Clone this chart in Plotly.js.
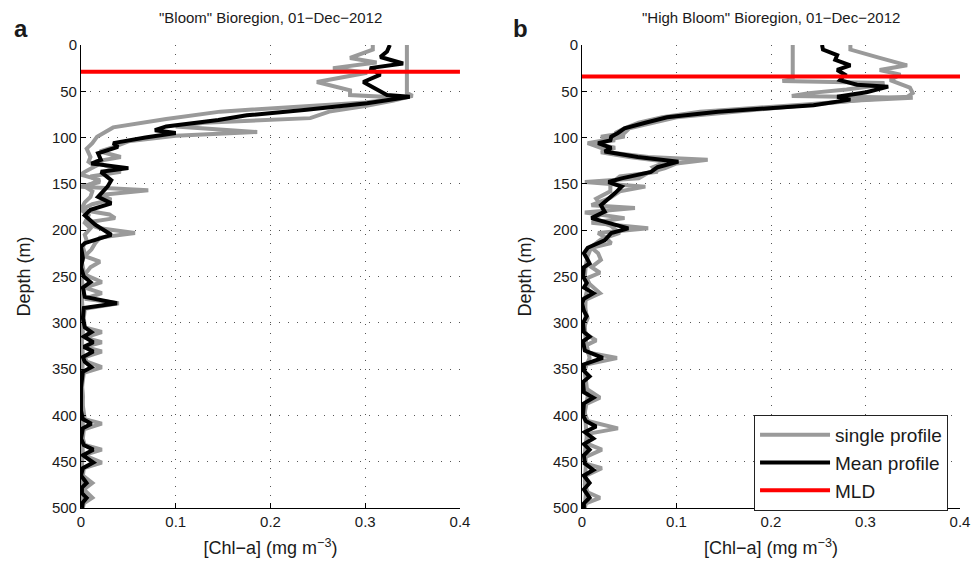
<!DOCTYPE html>
<html>
<head>
<meta charset="utf-8">
<script src="https://cdn.plot.ly/plotly-3.0.1.min.js"></script>
<style>
html,body{margin:0;padding:0;background:#fff}
#chart{width:978px;height:570px}
</style>
</head>
<body>
<div id="chart"></div>
<script>
// ---------- Panel a: "Bloom" Bioregion ----------
var depthA_mean = [0,7,13,20,25,32,40,46,54,56,63,70,76,81,88,92,95,100,106,110,117,124,128,133,137,146,153,164,171,178,184,194,205,214,218,230,240,250,256,262,272,279,284,295,305,310,315,321,326,331,337,342,348,353,370,395,404,409,414,425,432,437,443,451,457,465,473,478,484,489,494,500];
var chlA_mean = [0.326,0.323,0.316,0.340,0.305,0.316,0.298,0.308,0.323,0.347,0.302,0.238,0.175,0.145,0.090,0.078,0.100,0.068,0.034,0.039,0.018,0.021,0.011,0.050,0.021,0.032,0.028,0.018,0.032,0.010,0.004,0.015,0.032,0.004,0.000,0.002,0.000,0.003,0.010,0.002,0.004,0.038,0.003,0.002,0.004,0.011,0.003,0.013,0.003,0.013,0.002,0.004,0.011,0.002,0.000,0.000,0.002,0.011,0.002,0.000,0.003,0.013,0.002,0.013,0.002,0.000,0.006,0.001,0.001,0.006,0.002,0.001];

var depthA_p1 = [0,52,55,60,66,72,79,84,88,94,98,104,110,115,121,126,132,137,142,148,153,157,162,167,172,178,183,187,192,198,203,208,214,221,228,234,240,248,256,262,268,274,279,285,295,305,310,316,321,326,331,337,342,348,354,370,390,404,409,415,425,432,437,443,451,457,465,473,480,489,495,500];
var chlA_p1 = [0.344,0.344,0.350,0.330,0.300,0.262,0.242,0.130,0.100,0.186,0.100,0.050,0.035,0.020,0.042,0.015,0.030,0.042,0.010,0.020,0.000,0.071,0.020,0.032,0.012,0.000,0.030,0.036,0.004,0.020,0.057,0.020,0.015,0.011,0.004,0.020,0.010,0.004,0.022,0.004,0.022,0.004,0.040,0.004,0.003,0.004,0.022,0.004,0.022,0.004,0.022,0.004,0.006,0.022,0.003,0.001,0.002,0.004,0.022,0.003,0.002,0.004,0.022,0.003,0.022,0.003,0.002,0.012,0.003,0.012,0.003,0.002];

var depthA_p2 = [0,5,14,19,25,30,40,49,54,57,62,67,72,80,89,99,106,112,121,126,131,137,140,146,153,158,164,170,178,184,192,198,205,211,218,225,235,245,255,265,275,290,300,310,320,335,350,365,380,395,410,425,440,455,470,485,500];
var chlA_p2 = [0.308,0.308,0.284,0.312,0.266,0.302,0.249,0.284,0.284,0.340,0.300,0.230,0.147,0.090,0.034,0.017,0.012,0.006,0.010,0.008,0.015,0.004,0.000,0.020,0.004,0.012,0.010,0.004,0.000,0.008,0.004,0.010,0.004,0.006,0.002,0.004,0.001,0.003,0.001,0.003,0.001,0.002,0.001,0.002,0.001,0.002,0.001,0.001,0.002,0.001,0.002,0.001,0.002,0.001,0.002,0.001,0.001];

var mldA = 29;

// ---------- Panel b: "High Bloom" Bioregion ----------
var depthB_mean = [0,5,11,16,22,27,32,38,43,45,51,56,59,65,72,78,84,90,95,99,103,106,111,115,121,124,126,132,137,144,148,153,160,173,180,187,191,198,203,211,219,225,232,236,240,250,257,262,268,274,279,287,293,300,310,315,320,330,338,345,352,358,364,375,381,387,400,406,412,418,425,431,437,443,452,459,465,473,480,489,495,500];
var chlB_mean = [0.254,0.255,0.270,0.268,0.284,0.270,0.278,0.273,0.291,0.324,0.301,0.270,0.284,0.245,0.144,0.090,0.067,0.045,0.038,0.031,0.030,0.017,0.031,0.024,0.059,0.088,0.102,0.080,0.073,0.042,0.028,0.042,0.035,0.020,0.024,0.010,0.024,0.049,0.031,0.024,0.006,0.002,0.006,0.008,0.002,0.001,0.005,0.002,0.012,0.002,0.000,0.002,0.005,0.001,0.002,0.008,0.001,0.003,0.022,0.002,0.002,0.008,0.001,0.002,0.012,0.002,0.001,0.004,0.015,0.003,0.012,0.002,0.008,0.002,0.003,0.012,0.002,0.008,0.002,0.008,0.002,0.002];

var depthB_p1 = [0,37,39,41,44,48,52,55,57,60,64,68,72,78,84,90,95,99,103,106,111,116,121,124,128,133,138,144,148,153,158,165,173,176,181,187,192,198,203,208,214,219,225,232,240,246,252,258,268,275,285,295,305,312,319,325,332,338,345,352,360,370,381,388,398,406,414,420,430,437,445,452,457,465,475,483,489,495,500];
var chlB_p1 = [0.223,0.223,0.212,0.320,0.310,0.280,0.240,0.222,0.350,0.290,0.240,0.175,0.125,0.085,0.060,0.045,0.035,0.045,0.020,0.006,0.020,0.030,0.070,0.133,0.100,0.088,0.070,0.060,0.003,0.067,0.040,0.030,0.010,0.056,0.003,0.045,0.010,0.070,0.017,0.025,0.031,0.010,0.017,0.020,0.010,0.019,0.005,0.008,0.019,0.004,0.003,0.006,0.002,0.004,0.015,0.003,0.006,0.037,0.004,0.003,0.004,0.003,0.019,0.004,0.003,0.006,0.038,0.006,0.004,0.021,0.004,0.003,0.021,0.004,0.003,0.006,0.019,0.004,0.003];

var depthB_p2 = [0,5,14,22,27,32,38,46,52,56,59,64,68,72,78,84,90,95,99,103,106,111,116,121,126,132,137,142,150,158,166,173,180,188,195,203,210,218,228,238,250,262,275,290,305,320,338,350,365,380,395,410,425,440,455,470,485,500];
var chlB_p2 = [0.284,0.284,0.315,0.344,0.315,0.337,0.326,0.347,0.350,0.344,0.301,0.250,0.200,0.160,0.100,0.075,0.050,0.045,0.020,0.035,0.010,0.035,0.020,0.050,0.090,0.075,0.080,0.040,0.030,0.030,0.015,0.020,0.025,0.012,0.030,0.040,0.020,0.010,0.006,0.004,0.003,0.006,0.003,0.004,0.003,0.004,0.008,0.003,0.004,0.006,0.003,0.004,0.005,0.003,0.004,0.003,0.004,0.003];

var mldB = 34;

// ---------- text ----------
var titleA = '"Bloom" Bioregion, 01\u2212Dec\u22122012';
var titleB = '"High Bloom" Bioregion, 01\u2212Dec\u22122012';
var xTitle = '[Chl\u2212a] (mg m<sup>\u22123</sup>)';
var yTitle = 'Depth (m)';
var legendNames = ['single profile', 'Mean profile', 'MLD'];
var xRange = [0, 0.4];
var depthRange = [500, 0];

var GRAY = '#9a9a9a', BLACK = '#000000', RED = '#ff0000';
var FONT = 'Liberation Sans, Arial, Helvetica, sans-serif';
var TXT = '#1a1a1a';

function prof(x, y, color, xa, ya, name, show) {
  return {x: x, y: y, type: 'scatter', mode: 'lines', xaxis: xa, yaxis: ya,
    name: name, showlegend: show, legendgroup: name,
    line: {color: color, width: 4, shape: 'linear'}, hoverinfo: 'skip'};
}

var traces = [
  prof(chlA_p1, depthA_p1, GRAY, 'x', 'y', legendNames[0], true),
  prof(chlA_p2, depthA_p2, GRAY, 'x', 'y', legendNames[0], false),
  prof(chlA_mean, depthA_mean, BLACK, 'x', 'y', legendNames[1], true),
  prof(xRange, [mldA, mldA], RED, 'x', 'y', legendNames[2], true),
  prof(chlB_p1, depthB_p1, GRAY, 'x2', 'y2', legendNames[0], false),
  prof(chlB_p2, depthB_p2, GRAY, 'x2', 'y2', legendNames[0], false),
  prof(chlB_mean, depthB_mean, BLACK, 'x2', 'y2', legendNames[1], false),
  prof(xRange, [mldB, mldB], RED, 'x2', 'y2', legendNames[2], false)
];

function xax(domain, anchor) {
  return {domain: domain, anchor: anchor, range: xRange, dtick: 0.1, tick0: 0,
    ticks: 'inside', ticklen: 5, tickcolor: '#000', tickwidth: 1,
    showline: true, linecolor: '#000', linewidth: 1, mirror: false,
    showgrid: true, gridcolor: '#555', griddash: '1px,8px', gridwidth: 1,
    zeroline: false, tickfont: {size: 15, color: TXT, family: FONT},
    title: {text: xTitle, font: {size: 18, color: TXT, family: FONT}, standoff: 12},
    automargin: false, fixedrange: true};
}
function yax(anchor) {
  return {domain: [0.1088, 0.9211], anchor: anchor, range: depthRange, dtick: 50, tick0: 0,
    ticks: 'inside', ticklen: 5, tickcolor: '#000', tickwidth: 1,
    showline: true, linecolor: '#000', linewidth: 1, mirror: false,
    showgrid: true, gridcolor: '#555', griddash: '1px,8px', gridwidth: 1,
    zeroline: false, tickfont: {size: 15, color: TXT, family: FONT},
    title: {text: yTitle, font: {size: 18, color: TXT, family: FONT}, standoff: 16},
    automargin: false, fixedrange: true};
}

var layout = {
  width: 978, height: 570,
  margin: {l: 0, r: 0, t: 0, b: 0},
  paper_bgcolor: '#fff', plot_bgcolor: '#fff',
  font: {family: FONT, size: 15, color: TXT},
  xaxis: xax([0.0828, 0.4703], 'y'),
  yaxis: yax('x'),
  xaxis2: xax([0.5951, 0.9816], 'y2'),
  yaxis2: yax('x2'),
  showlegend: true,
  legend: {x: 0.771, y: 0.272, xanchor: 'left', yanchor: 'top',
    bgcolor: '#fff', bordercolor: '#222', borderwidth: 1,
    font: {size: 19, color: TXT, family: FONT}, tracegroupgap: 0, itemwidth: 70},
  annotations: [
    {text: titleA, xref: 'paper', yref: 'paper', x: (0.0828 + 0.4703) / 2, y: 1 - 18 / 570,
      showarrow: false, xanchor: 'center', yanchor: 'middle', font: {size: 15, color: TXT, family: FONT}},
    {text: titleB, xref: 'paper', yref: 'paper', x: (0.5951 + 0.9816) / 2, y: 1 - 18 / 570,
      showarrow: false, xanchor: 'center', yanchor: 'middle', font: {size: 15, color: TXT, family: FONT}},
    {text: '<b>a</b>', xref: 'paper', yref: 'paper', x: 12 / 978, y: 1 - 28 / 570,
      showarrow: false, xanchor: 'left', yanchor: 'middle', font: {size: 24, color: TXT, family: FONT}},
    {text: '<b>b</b>', xref: 'paper', yref: 'paper', x: 511 / 978, y: 1 - 28 / 570,
      showarrow: false, xanchor: 'left', yanchor: 'middle', font: {size: 24, color: TXT, family: FONT}}
  ]
};

Plotly.newPlot('chart', traces, layout, {staticPlot: true, displayModeBar: false});
</script>
</body>
</html>
